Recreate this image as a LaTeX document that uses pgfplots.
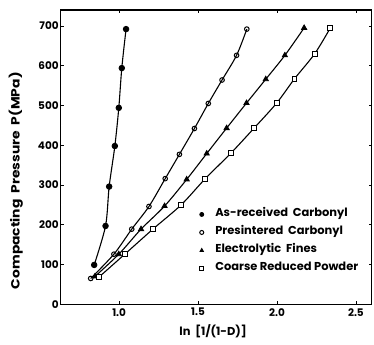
\documentclass[border=0pt]{standalone}
\usepackage{fontspec}
\setmainfont{Poppins}
\usepackage{pgfplots}
\pgfplotsset{compat=1.18}
\begin{document}
\begin{tikzpicture}
\useasboundingbox (-60.7bp,-40.7bp) rectangle (313.3bp,304.3bp);
\begin{axis}[
  at={(0,0)}, anchor=south west,
  scale only axis, width=311bp, height=294.3bp,
  xmin=0.63, xmax=2.6, ymin=0, ymax=740,
  xtick={1,1.5,2,2.5}, ytick={0,100,...,700},
  tick align=inside, major tick length=3bp,
  x tick label style={/pgf/number format/fixed, /pgf/number format/fixed zerofill, /pgf/number format/precision=1},
  /pgf/number format/assume math mode=true,
  tick label style={font=\bfseries\fontsize{10.5}{11}\selectfont},
  xticklabel style={yshift=-0.5bp},
  yticklabel style={xshift=1.5bp},
  axis line style={line width=1.2bp},
  every tick/.style={line width=0.8bp, black},
  xlabel={ln\ \ [1/(1-D)]},
  ylabel={\scalebox{1.16}[1]{Compacting\ \ Pressure\ \ P(MPa)}},
  xlabel style={font=\bfseries\fontsize{11.5}{12}\selectfont, at={(axis description cs:0.49,-0.09)}, anchor=center},
  ylabel style={font=\bfseries\fontsize{12}{12}\selectfont, at={(axis description cs:-0.144,0.42)}, anchor=center},
  legend style={draw=none, fill=none, at={(axis description cs:0.4415,0.328)}, anchor=north west,
    font=\bfseries\fontsize{11.5}{12}\selectfont, row sep=5bp, inner sep=0pt,
    nodes={inner sep=1bp, text height=8bp, text depth=3bp}},
  legend cell align=left,
  legend image code/.code={\draw[#1, only marks, mark size=2bp] plot coordinates {(0bp,0bp)}; \path (-3bp,0bp) (12bp,0bp);},
]
\addplot[black, line width=1.1bp, smooth, tension=0.5, mark=*, mark size=2.8bp, mark options={fill=black, line width=0.8bp}]
coordinates {(0.842,99) (0.914,197) (0.937,296) (0.973,398) (0.998,494) (1.017,594) (1.044,692)};
\addlegendentry{As-received\ \ Carbonyl}
\addplot[black, line width=1.1bp, smooth, tension=0.5, mark=o, mark size=2.3bp, mark options={fill=white, line width=1bp}]
coordinates {(0.820,65) (0.967,126) (1.080,189) (1.189,246) (1.292,316) (1.382,377) (1.477,442) (1.565,505) (1.652,564) (1.744,626) (1.809,692)};
\addlegendentry{Presintered\ \ Carbonyl}
\addplot[black, line width=1.1bp, smooth, tension=0.5, mark=triangle*, mark size=3bp, mark options={fill=black, line width=0.8bp}]
coordinates {(0.847,70) (0.998,126) (1.139,189) (1.288,247) (1.428,314) (1.555,379) (1.681,443) (1.807,506) (1.929,566) (2.050,626) (2.172,695)};
\addlegendentry{Electrolytic\ \ Fines}
\addplot[black, line width=1.1bp, smooth, tension=0.5, mark=square*, mark size=2.4bp, mark options={fill=white, line width=1bp}]
coordinates {(0.874,69) (1.036,126) (1.214,189) (1.393,250) (1.546,316) (1.708,380) (1.855,443) (1.998,506) (2.111,567) (2.239,630) (2.338,695)};
\addlegendentry{Coarse Reduced Powder}
\end{axis}
\end{tikzpicture}
\end{document}
